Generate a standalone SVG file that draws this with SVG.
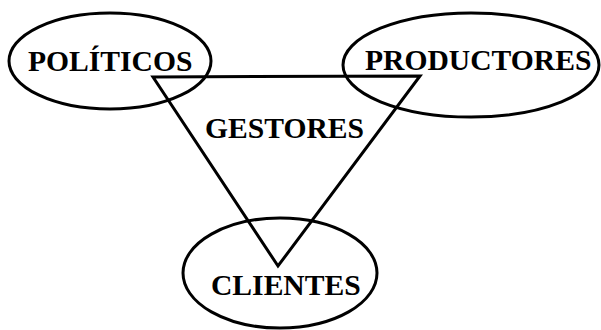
<svg xmlns="http://www.w3.org/2000/svg" width="601" height="330" viewBox="0 0 601 330">
  <style>
    .node ellipse { fill: none; stroke: #000; stroke-width: 3; }
    .edge { fill: none; stroke: #000; stroke-width: 3; stroke-linejoin: miter; }
    text { font-family: "Liberation Serif", "Times New Roman", serif; font-weight: bold; font-size: 29.6px; fill: #000; }
  </style>
  <rect width="601" height="330" fill="#fff"/>
  <g id="connectors">
    <polygon class="edge" points="153,77 420,76 278,266"/>
  </g>
  <g id="politicos" class="node">
    <ellipse cx="110" cy="61" rx="101" ry="48"/>
    <text x="28" y="71">POLÍTICOS</text>
  </g>
  <g id="productores" class="node">
    <ellipse cx="471" cy="65" rx="128" ry="52"/>
    <text x="365" y="70">PRODUCTORES</text>
  </g>
  <g id="gestores" class="node">
    <text x="205" y="138">GESTORES</text>
  </g>
  <g id="clientes" class="node">
    <ellipse cx="280" cy="273" rx="97" ry="55"/>
    <text x="211" y="295">CLIENTES</text>
  </g>
</svg>
